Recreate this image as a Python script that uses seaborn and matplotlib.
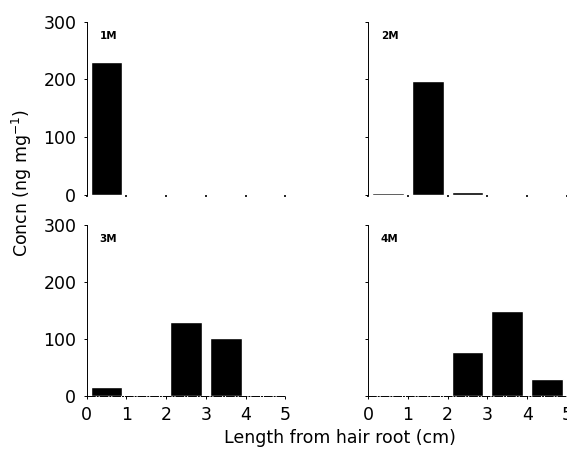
import numpy as np
import pandas as pd
import matplotlib
matplotlib.use("Agg")
import matplotlib.pyplot as plt
import seaborn as sns

# --- data (bars centred on each 1 cm segment)
segments = [0.5, 1.5, 2.5, 3.5, 4.5]
conc_1m = [230, 0, 0, 0, 0]
conc_2m = [3, 198, 4, 0, 0]
conc_3m = [16, 1, 130, 102, 0]
conc_4m = [2, 1, 77, 149, 30]
panels = ["1M", "2M", "3M", "4M"]
x_ticks = [0, 1, 2, 3, 4, 5]
y_ticks = [0, 100, 200, 300]

df = pd.DataFrame({
    "segment": segments * 4,
    "conc": conc_1m + conc_2m + conc_3m + conc_4m,
    "panel": np.repeat(panels, len(segments)),
})

sns.set_style("ticks")
plt.rcParams["font.family"] = ["DejaVu Sans"]
plt.rcParams.update({
    "text.color": "black",
    "axes.labelcolor": "black",
    "axes.edgecolor": "black",
    "xtick.color": "black",
    "ytick.color": "black",
})

fig = plt.figure(figsize=(5.67, 4.53), dpi=100)
rects = {
    "1M": [0.153, 0.570, 0.350, 0.382],
    "2M": [0.649, 0.570, 0.351, 0.382],
    "3M": [0.153, 0.126, 0.350, 0.377],
    "4M": [0.649, 0.126, 0.351, 0.377],
}

for name in panels:
    ax = fig.add_axes(rects[name])
    sub = df[df["panel"] == name]
    sns.barplot(data=sub, x="segment", y="conc", native_scale=True,
                color="black", saturation=1, width=0.8, ax=ax)
    ax.set_xlim(0, 5)
    ax.set_ylim(0, 300)
    ax.set_xlabel("")
    ax.set_ylabel("")
    ax.set_xticks(x_ticks)
    ax.set_yticks(y_ticks)
    for s in ["top", "right"]:
        ax.spines[s].set_visible(False)
    ax.spines["left"].set_linewidth(0.7)
    ax.spines["bottom"].set_linewidth(0.7)
    ax.tick_params(axis="both", length=2.5, width=0.7, labelsize=12.5, pad=5)
    top = name in ("1M", "2M")
    if top:
        ax.spines["bottom"].set_visible(False)
        ax.tick_params(axis="x", labelbottom=False, length=1.5, width=1.2)
    else:
        ax.spines["bottom"].set_linestyle((0, (8, 2, 1, 2)))
    if name in ("2M", "4M"):
        ax.tick_params(axis="y", labelleft=False)
    ax.text(0.065, 0.92, name, transform=ax.transAxes, fontsize=7.5,
            fontweight="bold", va="center", ha="left")

fig.text(0.038, 0.595, "Concn (ng mg$^{-1}$)", rotation=90,
         ha="center", va="center", fontsize=12.5)
fig.text(0.60, 0.033, "Length from hair root (cm)", ha="center",
         va="center", fontsize=12.5)

fig.savefig("out.png", dpi=100)
